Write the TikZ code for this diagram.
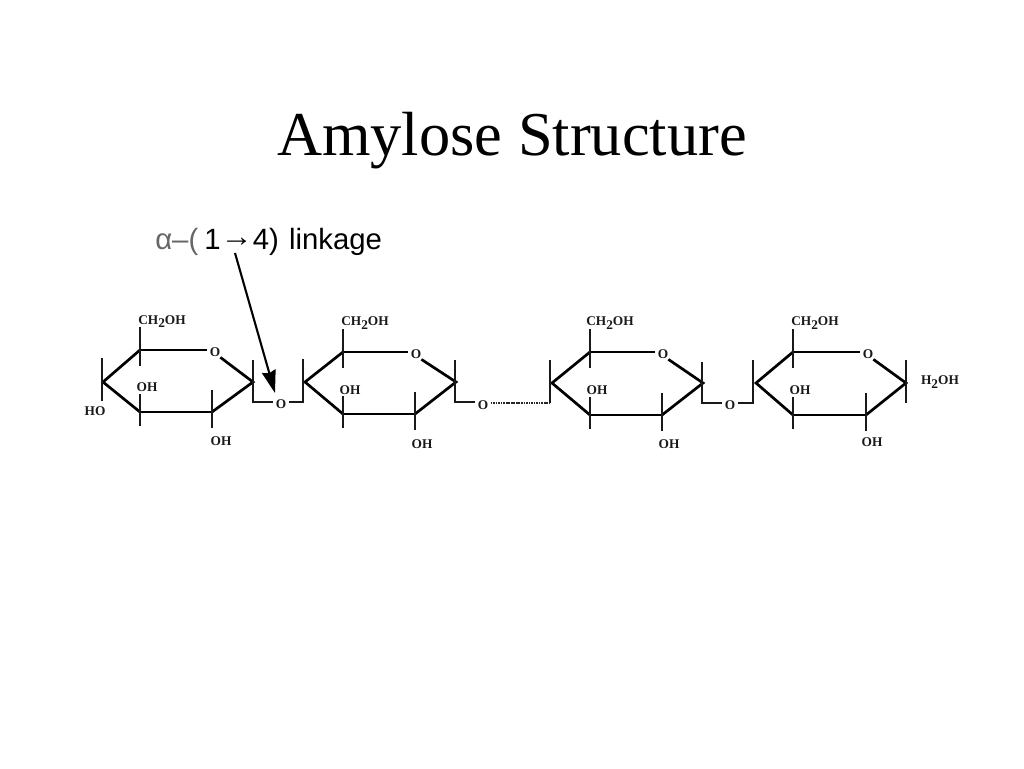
\documentclass[tikz,border=0pt]{standalone}
\usepackage{fontspec}
\usepackage{graphicx}
\setmainfont{Liberation Serif}
\newfontfamily\arialfont{Liberation Sans}
\usetikzlibrary{arrows.meta}
\tikzset{
  bond/.style={line width=2.7pt*0.75,black},
  flatbond/.style={line width=2.3pt*0.75,black},
  thinbond/.style={line width=2.0pt*0.75,black!90},
  chem/.style={font=\fontsize{10}{11}\selectfont\bfseries,inner sep=0pt,text=black!90},
  oxy/.style={chem,circle,minimum size=11pt},
  tick/.style={line width=2.0pt*0.75,black!90},
  pointer/.style={line width=2.1pt*0.75,black,-{Stealth[length=17pt,width=10.5pt,inset=1.5pt]}}
}
\newcommand{\subtwo}{\raisebox{-2.4pt}{2}}
% #1 name, #2 left x, #3 top-left x, #4 O x, #5 right x, #6 bottom-right x, #7 top y, #8 mid y, #9 bottom y
\newcommand{\sugarring}[9]{
  \coordinate (#1l) at (#2,#8);
  \coordinate (#1tl) at (#3,#7);
  \node[oxy] (#1o) at (#4,#7+2) {O};
  \coordinate (#1r) at (#5,#8);
  \coordinate (#1br) at (#6,#9);
  \coordinate (#1bl) at (#3,#9);
  \coordinate (#1ct) at (#3,#7-23);
  \coordinate (#1cb) at (#3,#7+16);
  \coordinate (#1lt) at (#3,#9-18);
  \coordinate (#1lb) at (#3,#9+14);
  \coordinate (#1rt) at (#6,#9-22);
  \coordinate (#1rb) at (#6,#9+16);
  \draw[bond] (#1bl) -- (#1l) -- (#1tl);
  \draw[flatbond] (#1tl) -- (#1o.west |- #1tl);
  \draw[bond] (#1o.south east) -- (#1r) -- (#1br);
  \draw[flatbond] (#1br) -- (#1bl);
  \draw[tick] (#1ct) -- (#1cb);
  \draw[tick] (#1lt) -- (#1lb);
  \draw[tick] (#1rt) -- (#1rb);
}
\begin{document}
\begin{tikzpicture}[x=0.75pt,y=-0.75pt]
\useasboundingbox (0,0) rectangle (1024,768);
\node[anchor=base,font=\fontsize{46.8}{50}\selectfont,inner sep=0pt] (title) at (512,155) {Amylose Structure};

\node[anchor=base west,inner sep=0pt,font=\arialfont\fontsize{22}{26}\selectfont,text=black] (label) at (155,249)
  {\textcolor{black!60}{α–(}\hspace{4.5pt}1\raisebox{2pt}{\scalebox{1.1}[1]{→}}4) \hspace{1.5pt}linkage};

\sugarring{a}{103}{140}{215}{253}{212}{350}{382}{412}
\sugarring{b}{305}{343}{416}{456}{415}{352}{382}{414}
\sugarring{c}{552}{590}{663}{703}{662}{352}{383}{415}
\sugarring{d}{756}{793}{868}{906}{866}{352}{383}{415}

% chain linkages
\node[oxy] (o1) at (281,404.5) {O};
\node[oxy] (o2) at (483,405) {O};
\node[oxy] (o3) at (730,405.5) {O};

\coordinate (a1) at (253,360);\coordinate (a2) at (253,402);
\coordinate (a3) at (303,359);\coordinate (a4) at (303,402);
\coordinate (b1) at (455,360);\coordinate (b2) at (455,402);
\coordinate (c1) at (550,360);\coordinate (c2) at (550,403);
\coordinate (c3) at (702,362);\coordinate (c4) at (702,403);
\coordinate (d1) at (753,360);\coordinate (d2) at (753,403);
\coordinate (e1) at (102,358);\coordinate (e2) at (102,401);
\coordinate (f1) at (906,360);\coordinate (f2) at (906,403);

\draw[thinbond] (a1) -- (a2) -- (o1.west |- a2);
\draw[thinbond] (o1.east |- a4) -- (a4) -- (a3);
\draw[thinbond] (b1) -- (b2) -- (o2.west |- b2);
\draw[line width=1.9pt,black!85,dash pattern=on 1.3pt off 0.6pt] (o2.east |- c2) -- (c2);
\draw[thinbond] (c2) -- (c1);
\draw[thinbond] (c3) -- (c4) -- (o3.west |- c4);
\draw[thinbond] (o3.east |- d2) -- (d2) -- (d1);
\draw[tick] (e1) -- (e2);
\draw[tick] (f1) -- (f2);

% substituents
\node[chem] (ca) at (162,321.5) {CH\subtwo OH};
\node[chem] (cb) at (365,323) {CH\subtwo OH};
\node[chem] (cc) at (610,323) {CH\subtwo OH};
\node[chem] (cd) at (815,323) {CH\subtwo OH};
\node[chem] (ia) at (147,387) {OH};
\node[chem] (ib) at (350,390) {OH};
\node[chem] (ic) at (597,390) {OH};
\node[chem] (id) at (800,390) {OH};
\node[chem] (ba) at (221,441.5) {OH};
\node[chem] (bb) at (422,444) {OH};
\node[chem] (bc) at (669,444) {OH};
\node[chem] (bd) at (872,442) {OH};
\node[chem] (ho) at (95,411.5) {HO};
\node[chem] (end) at (940,382) {H\subtwo OH};

% pointer
\coordinate (ptrs) at (235,253);
\coordinate (ptre) at (275,393);
\draw[pointer] (ptrs) -- (ptre);
\end{tikzpicture}
\end{document}
